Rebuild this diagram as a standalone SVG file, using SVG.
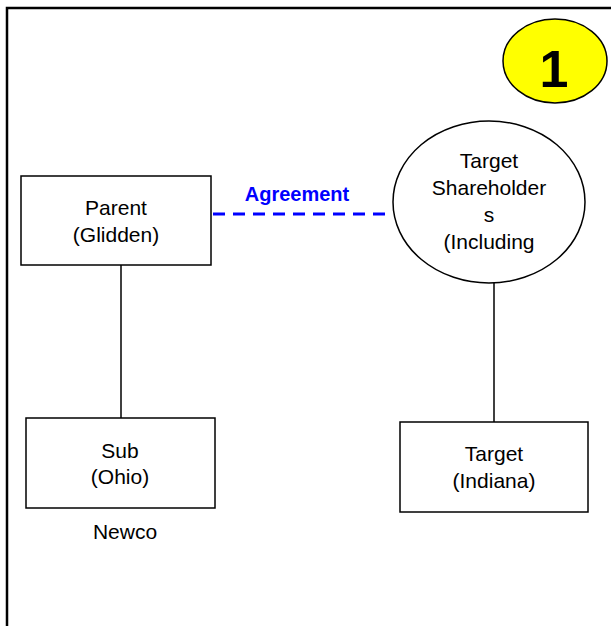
<svg xmlns="http://www.w3.org/2000/svg" width="611" height="626" viewBox="0 0 611 626">
<style>
.box{fill:#fff;stroke:#000;stroke-width:1.5}
.t{font-family:"Liberation Sans",Arial,sans-serif;font-size:21px;fill:#000;text-anchor:middle}
.ln{stroke:#000;stroke-width:1.5;fill:none}
</style>
<rect x="0" y="0" width="611" height="626" fill="#fff"/>
<path d="M7 626 V8 H611" fill="none" stroke="#000" stroke-width="2.5"/>
<g id="badge">
<ellipse cx="555" cy="61" rx="52" ry="42" fill="#ffff00" stroke="#000" stroke-width="1.5"/>
<text x="554" y="87" style="font-family:'Liberation Sans',Arial,sans-serif;font-size:52px;font-weight:bold;text-anchor:middle">1</text>
</g>
<g id="connectors">
<line class="ln" x1="121" y1="265" x2="121" y2="418"/>
<line class="ln" x1="494" y1="283" x2="494" y2="422"/>
<line x1="213" y1="214" x2="390" y2="214" stroke="#0000ff" stroke-width="3" stroke-dasharray="12,8"/>
<text x="297" y="201" style="font-family:'Liberation Sans',Arial,sans-serif;font-size:20px;font-weight:bold;fill:#0000ff;text-anchor:middle">Agreement</text>
</g>
<g id="parent">
<rect class="box" x="21" y="176" width="190" height="89"/>
<text class="t" x="116" y="215">Parent</text>
<text class="t" x="116" y="242">(Glidden)</text>
</g>
<g id="shareholders">
<ellipse cx="489" cy="202" rx="96" ry="81" fill="#fff" stroke="#000" stroke-width="1.5"/>
<text class="t" x="489" y="168">Target</text>
<text class="t" x="489" y="195">Shareholder</text>
<text class="t" x="489" y="222">s</text>
<text class="t" x="489" y="249">(Including</text>
</g>
<g id="sub">
<rect class="box" x="26" y="418" width="189" height="90"/>
<text class="t" x="120" y="458">Sub</text>
<text class="t" x="120" y="484">(Ohio)</text>
<text class="t" x="125" y="539">Newco</text>
</g>
<g id="target">
<rect class="box" x="400" y="422" width="188" height="90"/>
<text class="t" x="494" y="461">Target</text>
<text class="t" x="494" y="488">(Indiana)</text>
</g>
</svg>
